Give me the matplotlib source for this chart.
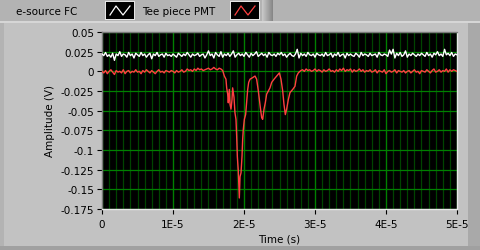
import numpy as np
import matplotlib
matplotlib.use("Agg")
import matplotlib.pyplot as plt
from matplotlib.patches import Rectangle
from matplotlib.lines import Line2D

# ---------------- data ----------------
series_names = ["e-source FC", "Tee piece PMT"]

# white trace (e-source FC), mV, sampled every 0.25 us from 0 to 50 us
white_mv = [
    22, 20, 24, 19, 21, 18, 23, 14, 22, 20, 25, 19, 22, 21, 18, 24, 20, 22, 17, 23,
    21, 19, 24, 20, 22, 18, 21, 23, 16, 22, 20, 24, 19, 21, 22, 18, 23, 20, 21, 19,
    22, 20, 18, 23, 21, 19, 22, 20, 24, 21, 18, 22, 20, 21, 23, 19, 21, 22, 17, 21,
    26, 20, 22, 17, 24, 21, 19, 25, 18, 22, 20, 23, 19, 22, 26, 18, 21, 23, 20, 22,
    19, 24, 21, 18, 23, 20, 22, 25, 19, 21, 23, 20, 22, 18, 24, 21, 20, 22, 19, 23,
    21, 24, 20, 22, 18, 21, 23, 20, 19, 22, 28, 17, 23, 20, 22, 19, 24, 21, 20, 22,
    18, 23, 21, 20, 22, 19, 24, 20, 21, 23, 18, 22, 20, 24, 19, 21, 22, 17, 23, 20,
    22, 20, 19, 23, 21, 18, 24, 20, 22, 21, 19, 23, 20, 21, 22, 18, 24, 21, 20, 22,
    21, 19, 27, 22, 28, 17, 23, 20, 24, 19, 21, 26, 18, 22, 20, 23, 21, 19, 22, 20,
    23, 21, 19, 24, 20, 22, 18, 23, 21, 25, 20, 22, 19, 28, 21, 23, 20, 24, 19, 22,
    21,
]
white_t_us = np.linspace(0, 50, len(white_mv))

# red trace (Tee piece PMT): baseline before pulse, 0..17 us every 0.25 us (mV)
red_pre_mv = [
    0, -2, 1, -3, 0, 2, -1, -4, 1, -1, 0, -2, 2, -3, 0, 1, -2, 0, -1, 2,
    -1, 0, -3, 1, -1, 2, 0, -2, 1, -1, -3, 0, 2, -1, 0, -2, 1, 0, -1, 1,
    0, -2, 1, -1, 0, 2, -1, 0, 3, 1, 2, 0, 3, 1, 4, 2, 3, 1, 2, 3,
    4, 2, 3, 5, 3, 2, 4, 3, 1,
]
red_pre_t_us = np.linspace(0, 17, len(red_pre_mv))

# pulse region (us, mV)
red_pulse_t_us = [
    17.23, 17.46, 17.56, 17.70, 17.79, 17.93, 18.03, 18.17, 18.31, 18.40,
    18.59, 18.73, 18.87, 18.97, 19.06, 19.20, 19.34, 19.44, 19.58, 19.72,
    19.81, 19.90, 20.05, 20.23, 20.38, 20.52, 20.66, 20.85, 21.22, 21.55,
    21.78, 22.02, 22.16, 22.30, 22.49, 22.63, 22.82, 23.00, 23.19, 23.43,
    23.66, 23.90, 24.23, 24.60, 24.98, 25.21, 25.45, 25.63, 25.82, 26.01,
    26.24, 26.48, 26.86, 27.18, 27.42, 27.65,
]
red_pulse_mv = [
    -6, -10, -21, -29, -40, -23, -42, -48, -36, -21,
    -33, -53, -61, -83, -108, -127, -161, -134, -129, -108,
    -87, -74, -61, -55, -38, -23, -14, -10, -8, -6,
    -10, -25, -36, -46, -59, -61, -48, -40, -29, -25,
    -21, -14, -10, -6, -2, -10, -25, -42, -55, -48,
    -36, -27, -23, -19, -6, -2,
]

# baseline after pulse, 28..50 us every 0.25 us (mV)
red_post_mv = [
    1, 2, 0, 3, 1, 2, 0, 1, 3, 0, 2, 1, -1, 2, 0, 1, 3, 0, 1, -1,
    2, 0, 3, 1, 4, 0, 2, 1, 3, -1, 2, 0, 1, 3, 0, 2, -1, 1, 0, 2,
    -1, 0, 2, -2, 1, 0, -1, 2, -3, 0, 1, -1, 0, 2, -2, 1, 0, -1, 1, -2,
    0, 1, -2, 0, 2, -1, 0, -3, 1, 0, -1, 2, 0, -2, 1, 3, -1, 0, 2, -1,
    1, 0, 3, -1, 2, 0, 2, 1, 0,
]
red_post_t_us = np.linspace(28, 50, len(red_post_mv))

x_ticks = [0, 1e-5, 2e-5, 3e-5, 4e-5, 5e-5]
x_labels = ["0", "1E-5", "2E-5", "3E-5", "4E-5", "5E-5"]
y_ticks = [0.05, 0.025, 0, -0.025, -0.05, -0.075, -0.1, -0.125, -0.15, -0.175]
y_labels = ["0.05", "0.025", "0", "-0.025", "-0.05", "-0.075", "-0.1", "-0.125", "-0.15", "-0.175"]

# ---------------- figure ----------------
W, H = 481, 251
DPI = 100
plt.rcParams['font.family'] = ['DejaVu Sans']
fig = plt.figure(figsize=(W / DPI, H / DPI), dpi=DPI, facecolor="#b3b3b3")

def fx(px):
    return px / W

def fy(py):
    return 1 - py / H

def frect(x0, y0, x1, y1, color, z=-5, **kw):
    fig.patches.append(Rectangle((fx(x0), fy(y1)), fx(x1) - fx(x0), fy(y0) - fy(y1),
                                 transform=fig.transFigure, facecolor=color,
                                 edgecolor="none", zorder=z, **kw))

# main panel
frect(4, 23, 468, 247, "#c2c2c2")
frect(0, 22, 481, 24, "#d6d6d6", z=-4)
frect(468, 24, 481, 251, "#a9a9a9")
frect(0, 247, 481, 251, "#a0a0a0")
# legend button shading
for i in range(11):
    c = 0.78 - i * 0.025
    frect(262 + i, 0, 263 + i, 22, (c, c, c), z=-4)

# legend
fig.text(fx(16), fy(12), series_names[0], fontsize=7.5, va="center", ha="left", color="black")
fig.text(fx(142), fy(12), series_names[1], fontsize=7.5, va="center", ha="left", color="black")
for (bx, col) in [(106, "white"), (231, "#ff4040")]:
    frect(bx - 1, 2, bx + 29, 21, "#e6e6e6", z=-3)
    frect(bx, 3, bx + 28, 20, "black", z=-2)
    xs = [fx(bx + 4), fx(bx + 10), fx(bx + 17), fx(bx + 24)]
    ys = [fy(16), fy(7), fy(16), fy(7)]
    fig.lines.append(Line2D(xs, ys, transform=fig.transFigure, color=col, lw=0.9, zorder=-1))

# axes
ax = fig.add_axes([fx(102), fy(210), fx(457) - fx(102), fy(33) - fy(210)])
ax.set_zorder(5)
ax.set_facecolor("black")
ax.set_xlim(0, 5e-5)
ax.set_ylim(-0.175, 0.05)

# grid
for t in np.arange(0, 51) * 1e-6:
    ax.axvline(t, color="#004400", lw=0.9, zorder=1)
for t in x_ticks:
    ax.axvline(t, color="#008000", lw=0.9, zorder=1.5)
for v in y_ticks:
    ax.axhline(v, color="#008000", lw=0.9, zorder=1.5)

red_t = np.concatenate([red_pre_t_us, red_pulse_t_us, red_post_t_us]) * 1e-6
red_v = np.array(red_pre_mv + red_pulse_mv + red_post_mv) / 1000.0
ax.plot(white_t_us * 1e-6, np.array(white_mv) / 1000.0, color="white", lw=1.0, zorder=3)
ax.plot(red_t, red_v, color="#ff4040", lw=1.0, zorder=3)

ax.set_xticks(x_ticks)
ax.set_xticklabels(x_labels)
ax.set_yticks(y_ticks)
ax.set_yticklabels(y_labels)
ax.tick_params(axis="both", direction="out", length=3.5, width=0.8, color="black",
               labelsize=7.5, pad=2.2, labelcolor="black")
ax.tick_params(axis="x", pad=3.5)
for side in ["left", "top"]:
    ax.spines[side].set_color("#7a7a7a")
for side in ["right", "bottom"]:
    ax.spines[side].set_color("#e8e8e8")
for s in ax.spines.values():
    s.set_linewidth(1)

ax.set_xlabel("Time (s)", fontsize=7.5, labelpad=3.5)
ax.set_ylabel("Amplitude (V)", fontsize=7.5, labelpad=4)

fig.savefig("out.png", dpi=DPI, facecolor=fig.get_facecolor())
